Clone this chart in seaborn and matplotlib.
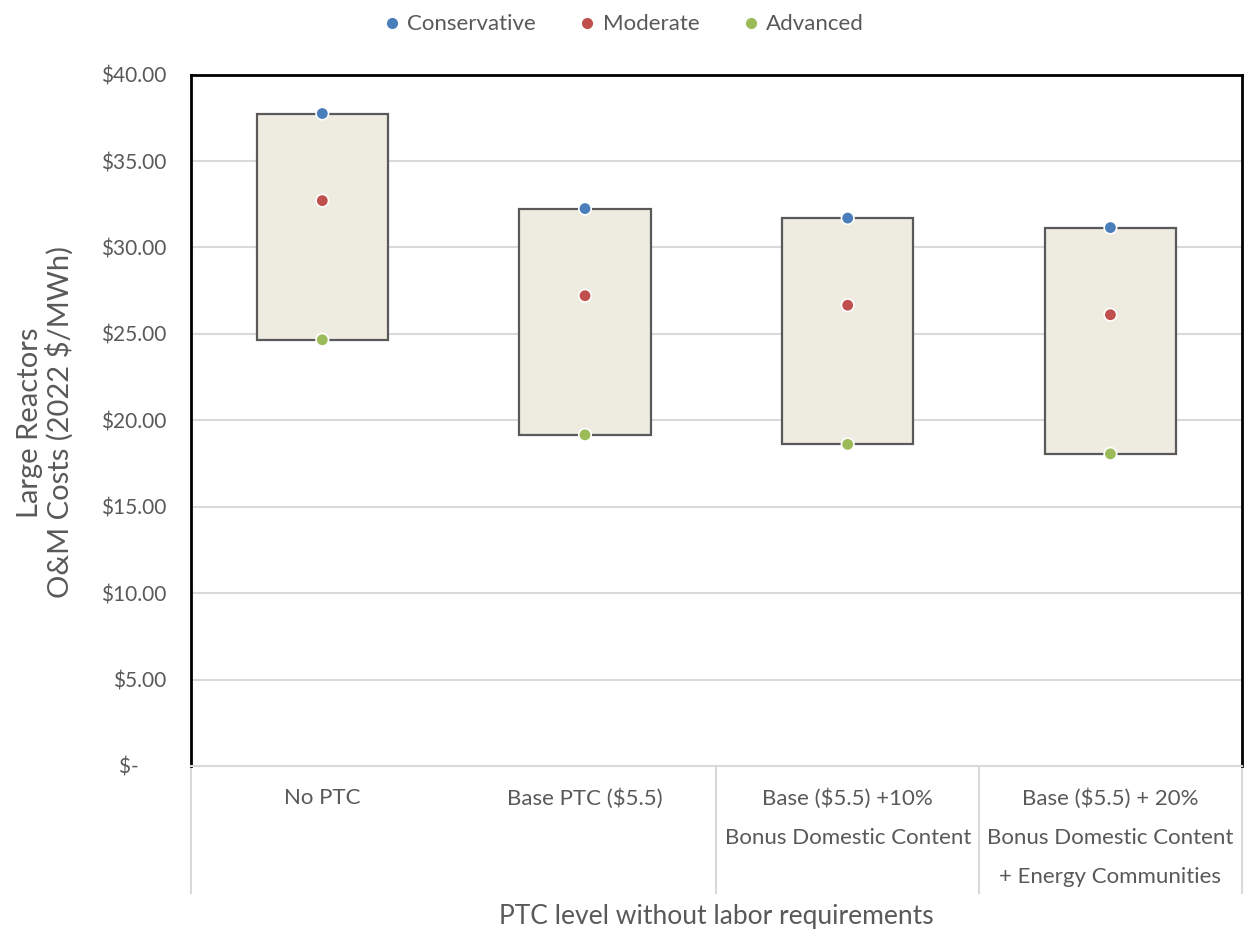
import pandas as pd
import numpy as np
import matplotlib
matplotlib.use("Agg")
import matplotlib.pyplot as plt
import seaborn as sns

# datos
levels = ["No PTC", "Base PTC ($5.5)", "Base ($5.5) +10%",
          "Base ($5.5) + 20%"]
level_labels = ["No PTC", "Base PTC ($5.5)",
                "Base ($5.5) +10%\nBonus Domestic Content",
                "Base ($5.5) + 20%\nBonus Domestic Content\n+ Energy Communities"]
conservative = [37.75, 32.25, 31.70, 31.15]
moderate = [32.71, 27.21, 26.66, 26.11]
advanced = [24.66, 19.16, 18.61, 18.06]

scenarios = ["Conservative", "Moderate", "Advanced"]
colors = ["#4A7EBB", "#C0504D", "#9BBB59"]

yticks = [0, 5, 10, 15, 20, 25, 30, 35, 40]
ytick_labels = ["$-     "] + [f"${v:.2f}" for v in yticks[1:]]

gray = "#595959"

sns.set_style("white")
plt.rcParams['font.family'] = ['Lato', 'DejaVu Sans']

fig = plt.figure(figsize=(12.48, 9.33), dpi=100)
ax = fig.add_axes([0.153, 0.179, 0.842, 0.741])

# cajas flotantes entre advanced y conservative
box_df = pd.DataFrame({"level": levels,
                       "height": np.array(conservative) - np.array(advanced)})
sns.barplot(data=box_df, x="level", y="height", order=levels,
            bottom=advanced, width=0.5, color="#EEEBE0",
            edgecolor=gray, linewidth=1.6, saturation=1, ax=ax, zorder=2)

# puntos
long_df = pd.DataFrame({
    "level": levels * 3,
    "cost": conservative + moderate + advanced,
    "scenario": ["Conservative"] * 4 + ["Moderate"] * 4 + ["Advanced"] * 4,
})
sns.stripplot(data=long_df, x="level", y="cost", hue="scenario", order=levels,
              hue_order=scenarios, palette=colors, jitter=False, size=9,
              edgecolor="white", linewidth=1.2, ax=ax, zorder=4)

ax.set_xlim(-0.5, 3.5)
ax.set_ylim(0, 40)
ax.set_yticks(yticks)
ax.set_yticklabels(ytick_labels, fontsize=15, color=gray)
ax.yaxis.grid(True, color="#D9D9D9", linewidth=1.5, zorder=0)
ax.set_axisbelow(True)
ax.tick_params(axis="y", length=0, pad=18)

ax.set_xticks(range(len(levels)))
ax.set_xticklabels(level_labels, fontsize=16, color=gray, linespacing=2.2,
                   va="top")
ax.tick_params(axis="x", length=0, pad=16)

for side in ["left", "top", "right"]:
    ax.spines[side].set_color("black")
    ax.spines[side].set_linewidth(2)
ax.spines["bottom"].set_color("#D9D9D9")
ax.spines["bottom"].set_linewidth(1.5)

# separadores del eje de categorias
ax.vlines([-0.5, 1.5, 2.5, 3.5], 0, -0.185, transform=ax.get_xaxis_transform(),
          color="#D9D9D9", linewidth=1.5, clip_on=False)

ax.set_xlabel("PTC level without labor requirements", fontsize=19, color=gray)
ax.xaxis.set_label_coords(0.5, -0.2)
ax.set_ylabel("Large Reactors\nO&M Costs (2022 $/MWh)", fontsize=21, color=gray,
              linespacing=1.1)
ax.yaxis.set_label_coords(-0.112, 0.497)

ax.legend_.remove()
handles = [plt.Line2D([], [], marker="o", linestyle="", color=c,
                      markersize=7) for c in colors]
fig.legend(handles, scenarios, loc="upper center", bbox_to_anchor=(0.5, 1.006),
           ncol=3, frameon=False, fontsize=16, labelcolor=gray,
           handlelength=0.7, handletextpad=0.35, columnspacing=1.95)

fig.savefig("out.png", dpi=100)
